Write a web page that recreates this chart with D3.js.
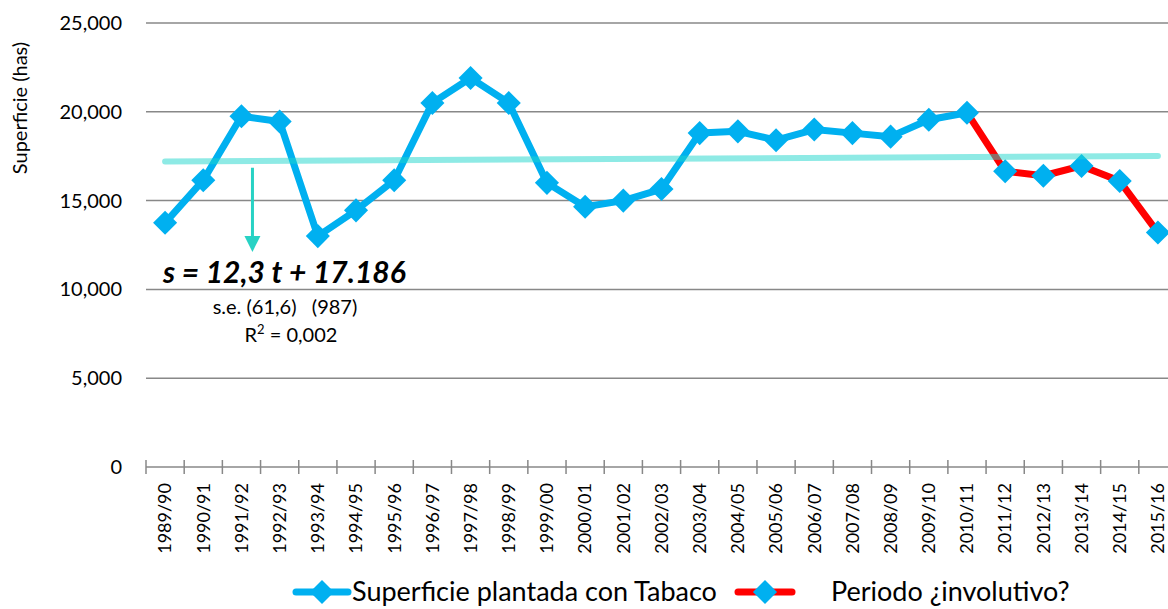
<!DOCTYPE html>
<html lang="es">
<head>
  <meta charset="UTF-8">
  <title>Superficie plantada con Tabaco</title>
  <script src="https://d3js.org/d3.v7.min.js"></script>
  <style>
    body { margin: 0; background: #fff; font-family: Lato, "Open Sans", sans-serif; }
    svg text { fill: #000; }
  </style>
</head>
<body>
  <div id="chart"></div>
  <script>
    const campaigns = ["1989/90","1990/91","1991/92","1992/93","1993/94","1994/95","1995/96","1996/97",
      "1997/98","1998/99","1999/00","2000/01","2001/02","2002/03","2003/04","2004/05","2005/06",
      "2006/07","2007/08","2008/09","2009/10","2010/11","2011/12","2012/13","2013/14","2014/15","2015/16"];
    const superficie = [13750, 16150, 19750, 19450, 13000, 14450, 16150, 20500, 21900, 20500, 16000,
      14650, 15000, 15650, 18800, 18900, 18400, 19000, 18800, 18600, 19550, 19950,
      16650, 16400, 16950, 16100, 13200];
    const involutivoStart = "2010/11";
    const yTicks = [0, 5000, 10000, 15000, 20000, 25000];
    const trendSlope = 12.3, trendIntercept = 17186;

    const width = 1168, height = 609;
    const margin = { top: 23, right: -9, bottom: 142, left: 146 };

    const svg = d3.select("#chart").append("svg").attr("width", width).attr("height", height);

    const x = d3.scaleBand().domain(campaigns).range([margin.left, width - margin.right]);
    const y = d3.scaleLinear().domain([0, 25000]).range([height - margin.bottom, margin.top]);
    const cx = d => x(d) + x.bandwidth() / 2;

    // grid + y labels
    svg.append("g").selectAll("line").data(yTicks.filter(d => d > 0)).join("line")
      .attr("x1", margin.left).attr("x2", width)
      .attr("y1", d => y(d)).attr("y2", d => y(d))
      .attr("stroke", "#888").attr("stroke-width", 1.5);
    svg.append("g").selectAll("text").data(yTicks).join("text")
      .attr("x", 122).attr("y", d => y(d)).attr("dy", "0.35em")
      .attr("text-anchor", "end").style("font-size", "20px")
      .text(d => d3.format(",")(d));

    svg.append("text")
      .attr("transform", `translate(27,108) rotate(-90)`)
      .attr("text-anchor", "middle").style("font-size", "20px")
      .text("Superficie (has)");

    // x axis with cross ticks
    const axisY = y(0);
    svg.append("line").attr("x1", margin.left).attr("x2", width)
      .attr("y1", axisY).attr("y2", axisY).attr("stroke", "#888").attr("stroke-width", 1.5);
    svg.append("g").selectAll("line").data(campaigns).join("line")
      .attr("x1", d => x(d)).attr("x2", d => x(d))
      .attr("y1", axisY - 7).attr("y2", axisY + 7)
      .attr("stroke", "#888").attr("stroke-width", 1.5);
    svg.append("g").selectAll("text").data(campaigns).join("text")
      .attr("transform", d => `translate(${cx(d)},${axisY + 16}) rotate(-90)`)
      .attr("text-anchor", "end").attr("dy", "0.35em").style("font-size", "18px")
      .text(d => d);

    const data = campaigns.map((c, i) => ({ c, v: superficie[i] }));
    const splitIdx = campaigns.indexOf(involutivoStart);
    const line = d3.line().x(d => cx(d.c)).y(d => y(d.v));

    svg.append("path").datum(data.slice(splitIdx))
      .attr("d", line).attr("fill", "none").attr("stroke", "#ff0000")
      .attr("stroke-width", 7).attr("stroke-linejoin", "round").attr("stroke-linecap", "round");
    svg.append("path").datum(data.slice(0, splitIdx + 1))
      .attr("d", line).attr("fill", "none").attr("stroke", "#00b0f0")
      .attr("stroke-width", 7).attr("stroke-linejoin", "round").attr("stroke-linecap", "round");

    const diamond = d3.symbol().type(d3.symbolSquare).size(290);
    svg.append("g").selectAll("path").data(data).join("path")
      .attr("d", diamond)
      .attr("transform", d => `translate(${cx(d.c)},${y(d.v)}) rotate(45)`)
      .attr("fill", "#00b0f0");

    // trend line
    const trend = campaigns.map((c, i) => ({ c, v: trendIntercept + trendSlope * (i + 1) }));
    svg.append("path").datum([trend[0], trend[trend.length - 1]])
      .attr("d", line).attr("fill", "none").attr("stroke", "#1ed6cc")
      .attr("stroke-opacity", 0.5).attr("stroke-width", 6).attr("stroke-linecap", "round");

    // annotation
    const ax = x("1991/92") + x.bandwidth() / 2 + 11;
    svg.append("line").attr("x1", ax).attr("x2", ax).attr("y1", y(16850)).attr("y2", y(12900))
      .attr("stroke", "#28d2c4").attr("stroke-width", 3);
    svg.append("path")
      .attr("d", `M${ax - 8},${y(12900) - 2}L${ax + 8},${y(12900) - 2}L${ax},${y(12900) + 14}Z`)
      .attr("fill", "#28d2c4");

    svg.append("text").attr("x", 163).attr("y", 283)
      .style("font-size", "30px").style("font-weight", "bold").style("font-style", "italic")
      .text(`s = 12,3 t + 17.186`);
    svg.append("text").attr("x", 285).attr("y", 314).attr("text-anchor", "middle")
      .style("font-size", "20px").attr("xml:space", "preserve")
      .text("s.e. (61,6)   (987)");
    const r2 = svg.append("text").attr("x", 291).attr("y", 342).attr("text-anchor", "middle")
      .style("font-size", "20px");
    r2.append("tspan").text("R");
    r2.append("tspan").attr("dy", -8).style("font-size", "13px").text("2");
    r2.append("tspan").attr("dy", 8).text(" = 0,002");

    // legend
    const ly = 592;
    const leg = svg.append("g");
    leg.append("line").attr("x1", 296).attr("x2", 348).attr("y1", ly).attr("y2", ly)
      .attr("stroke", "#00b0f0").attr("stroke-width", 7).attr("stroke-linecap", "round");
    leg.append("path").attr("d", diamond).attr("transform", `translate(322,${ly}) rotate(45)`).attr("fill", "#00b0f0");
    leg.append("text").attr("x", 352).attr("y", ly).attr("dy", "0.35em").style("font-size", "27px")
      .text("Superficie plantada con Tabaco");
    leg.append("line").attr("x1", 738).attr("x2", 792).attr("y1", ly).attr("y2", ly)
      .attr("stroke", "#ff0000").attr("stroke-width", 7).attr("stroke-linecap", "round");
    leg.append("path").attr("d", diamond).attr("transform", `translate(765,${ly}) rotate(45)`).attr("fill", "#00b0f0");
    leg.append("text").attr("x", 831).attr("y", ly).attr("dy", "0.35em").style("font-size", "27px")
      .text("Periodo ¿involutivo?");
  </script>
</body>
</html>
